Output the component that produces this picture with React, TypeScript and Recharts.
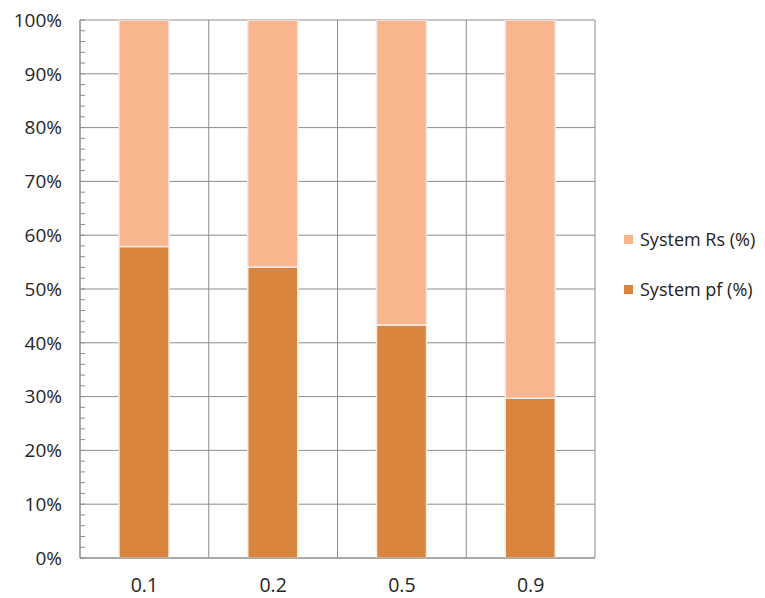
import React from 'react';
import { BarChart, Bar, XAxis, YAxis, CartesianGrid, Legend } from 'recharts';

const categories = ['0.1', '0.2', '0.5', '0.9'];
const systemPf = [57.9, 54.1, 43.3, 29.7];
const systemRs = [42.1, 45.9, 56.7, 70.3];
const yTicks = [0, 10, 20, 30, 40, 50, 60, 70, 80, 90, 100];
const allYTicks = [0, 2, 4, 6, 8, 10, 12, 14, 16, 18, 20, 22, 24, 26, 28, 30, 32, 34, 36, 38, 40, 42, 44, 46, 48, 50, 52, 54, 56, 58, 60, 62, 64, 66, 68, 70, 72, 74, 76, 78, 80, 82, 84, 86, 88, 90, 92, 94, 96, 98, 100];

const data = categories.map((c, i) => ({ name: c, pf: systemPf[i], rs: systemRs[i] }));

const FONT = '"Open Sans", sans-serif';
const GRID = '#8c8c8c';

const LegendContent = (props: any) => {
  const items = [...(props.payload || [])];
  items.sort((a: any, b: any) => (a.dataKey === 'rs' ? -1 : 1) - (b.dataKey === 'rs' ? -1 : 1));
  return (
    <div style={{ fontFamily: FONT }}>
      {items.map((it: any) => (
        <div key={it.value} style={{ display: 'flex', alignItems: 'center', height: 24, marginBottom: 26 }}>
          <div style={{ width: 9, height: 9, background: it.color, marginRight: 7 }} />
          <span style={{ fontSize: 18, color: '#222' }}>{it.value}</span>
        </div>
      ))}
    </div>
  );
};

const verticalGen = (props: any) => {
  const { offset } = props;
  return [0, 1, 2, 3, 4].map((i) => offset.left + (i * offset.width) / categories.length);
};

export default function App() {
  return (
    <BarChart width={757} height={590} data={data} margin={{ top: 12, right: 170, left: 0, bottom: 0 }}>
      <CartesianGrid stroke={GRID} strokeWidth={1} horizontalValues={yTicks} verticalCoordinatesGenerator={verticalGen} />
      <XAxis dataKey="name" height={40} axisLine={{ stroke: GRID }} tickLine={false} tickSize={6} tickMargin={14}
        tick={{ fill: '#262626', fontSize: 19.5, fontFamily: FONT }} />
      <YAxis width={72} domain={[0, 100]} ticks={allYTicks} interval={0} allowDataOverflow axisLine={{ stroke: GRID }}
        tickLine={{ stroke: GRID }} tickSize={-5} tickMargin={23}
        tickFormatter={(v: number) => (v % 10 === 0 ? `${v}%` : '')}
        tick={{ fill: '#262626', fontSize: 19, fontFamily: FONT }} />
      <Legend layout="horizontal" verticalAlign="middle" content={<LegendContent />}
        wrapperStyle={{ position: 'absolute', left: 616, top: 219, width: 150 }} />
      <Bar dataKey="pf" name="System pf (%)" stackId="a" fill="#D9853D" stroke="#f1ede4" strokeWidth={1.5} barSize={50} isAnimationActive={false} />
      <Bar dataKey="rs" name="System Rs (%)" stackId="a" fill="#F9B68E" stroke="#eeeaea" strokeWidth={1.5} barSize={50} isAnimationActive={false} />
    </BarChart>
  );
}
